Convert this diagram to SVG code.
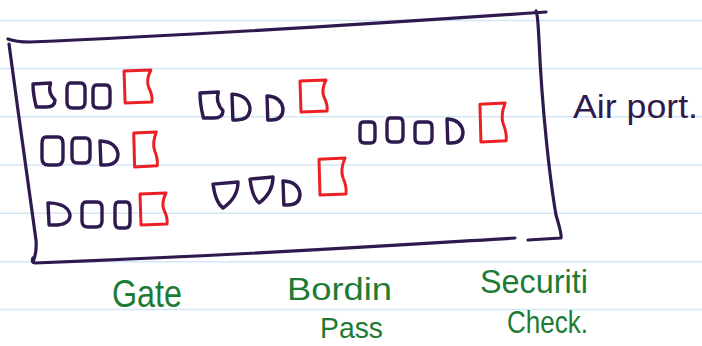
<svg xmlns="http://www.w3.org/2000/svg" xmlns:xlink="http://www.w3.org/1999/xlink" width="702" height="346" viewBox="0 0 702 346">
<style>
.rule{stroke:#d4e7f7;stroke-width:1.5;fill:none}
.box{stroke:#2e1a4f;stroke-width:3.2;fill:none;stroke-linecap:round;stroke-linejoin:round}
.p{stroke:#2e1a4f;stroke-width:3.4;fill:none;stroke-linecap:round;stroke-linejoin:round;vector-effect:non-scaling-stroke}
.r{stroke:#ec2024;stroke-width:3;fill:none;stroke-linecap:round;stroke-linejoin:round;vector-effect:non-scaling-stroke}
.lbl{font-family:"Liberation Sans",Arial,sans-serif;font-size:34px;fill:#1e7b34}
.air{font-family:"Liberation Sans",Arial,sans-serif;font-size:34px;fill:#2e1a4f}
</style>
<defs>
<path id="o" class="p" d="M4,0 L15,0 Q20,0 20,6 L20,19 Q20,25 14,25 L6,25 Q0,25 0,19 L0,6 Q0,0 4,0 Z"/>
<path id="d" class="p" d="M1,1 Q18,2 20,14 Q20,25 5,25 L1,25 L0,1 Z"/>
<path id="v" class="p" d="M0,2 L20,0 Q20,15 8,25 Q2,20 0,2 Z"/>
<path id="b" class="p" d="M0,1 L16,0 Q13,10 20,18 Q20,25 12,25 L3,25 Q0,12 0,1 Z"/>
<path id="f" class="r" d="M2,1 L28,0 Q23,10 26,17 Q30,25 29,31 L3,32 Z"/>
</defs>
<rect width="702" height="346" fill="#ffffff"/>
<g id="paper">
<path class="rule" d="M0,20.5H702M0,68.5H702M0,116.7H702M0,165H702M0,213.3H702M0,261.7H702M0,309.5H702"/>
</g>
<g id="airport-box">
<path class="box" d="M8,39 Q16,42 30,42 C200,35 400,22 546,12"/>
<path class="box" d="M536,11 C538,15 538,25 539,40 C542,110 550,180 556,215 Q562,235 561,238 L528,240"/>
<path class="box" d="M515,238 C400,245 250,255 35,263 Q31,262 33,258"/>
<path class="box" d="M9,44 C18,110 30,200 36,240 Q37,252 33,262"/>
</g>
<g id="gate">
<use xlink:href="#b" transform="translate(33,83) scale(1.1,0.96)"/>
<use xlink:href="#o" transform="translate(67,83) scale(0.9,1)"/>
<use xlink:href="#o" transform="translate(93,85) scale(0.85,0.92)"/>
<use xlink:href="#f" transform="translate(122,70) scale(1.03,1.03)"/>
<use xlink:href="#o" transform="translate(42,137) scale(1.05,1.12)"/>
<use xlink:href="#o" transform="translate(72,138) scale(0.9,1)"/>
<use xlink:href="#d" transform="translate(100,140) scale(0.9,1)"/>
<use xlink:href="#f" transform="translate(132,132) scale(0.87,1.09)"/>
<use xlink:href="#d" transform="translate(48,202) scale(1.1,0.92)"/>
<use xlink:href="#o" transform="translate(82,202) scale(1,1)"/>
<use xlink:href="#o" transform="translate(115,202) scale(0.75,1.04)"/>
<use xlink:href="#f" transform="translate(138,193) scale(1,1)"/>
</g>
<g id="boarding-pass">
<use xlink:href="#b" transform="translate(200,92) scale(1.15,1.04)"/>
<use xlink:href="#d" transform="translate(232,93) scale(0.9,1.08)"/>
<use xlink:href="#d" transform="translate(267,95) scale(0.8,1)"/>
<use xlink:href="#f" transform="translate(298,80) scale(1,1)"/>
<use xlink:href="#v" transform="translate(213,182) scale(1.25,1.04)"/>
<use xlink:href="#v" transform="translate(250,177) scale(1.15,1.04)"/>
<use xlink:href="#d" transform="translate(283,180) scale(0.85,1)"/>
<use xlink:href="#f" transform="translate(317,158) scale(1,1.16)"/>
</g>
<g id="security-check">
<use xlink:href="#o" transform="translate(360,122) scale(0.75,0.84)"/>
<use xlink:href="#o" transform="translate(387,118) scale(0.8,0.96)"/>
<use xlink:href="#o" transform="translate(415,122) scale(0.85,0.84)"/>
<use xlink:href="#d" transform="translate(447,118) scale(0.8,1)"/>
<use xlink:href="#f" transform="translate(478,103) scale(0.97,1.22)"/>
</g>
<g id="labels">
<text class="air" x="573" y="118" textLength="125" lengthAdjust="spacingAndGlyphs">Air port.</text>
<text class="lbl" x="112" y="307" textLength="70" lengthAdjust="spacingAndGlyphs" style="font-size:38px">Gate</text>
<text class="lbl" x="287" y="300" textLength="105" lengthAdjust="spacingAndGlyphs" style="font-size:32px">Bordin</text>
<text class="lbl" x="320" y="338" textLength="63" lengthAdjust="spacingAndGlyphs" style="font-size:30px">Pass</text>
<text class="lbl" x="480" y="293" textLength="108" lengthAdjust="spacingAndGlyphs">Securiti</text>
<text class="lbl" x="507" y="333" textLength="81" lengthAdjust="spacingAndGlyphs" style="font-size:32px">Check.</text>
</g>
</svg>
